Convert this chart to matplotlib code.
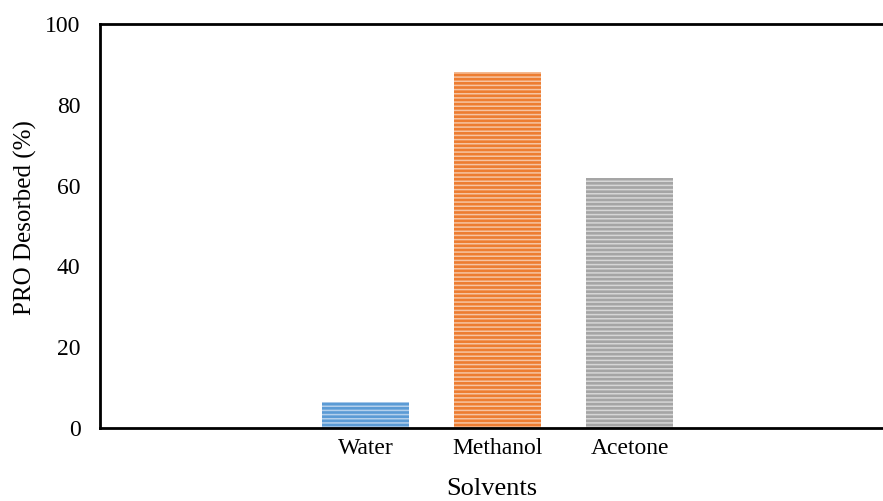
import matplotlib
matplotlib.use("Agg")
import matplotlib.pyplot as plt

plt.rcParams['font.family'] = ['Liberation Serif', 'DejaVu Serif']
plt.rcParams['hatch.linewidth'] = 1.1

solvents = ["Water", "Methanol", "Acetone"]
desorbed = [6.5, 88, 62]
colors = ["#5B9BD5", "#ED7D31", "#A5A5A5"]
stripe_colors = ["#B4D0EC", "#F6C4A2", "#D6D6D6"]

fig = plt.figure(figsize=(8.83, 5.01), dpi=100)
ax = fig.add_axes([0.1133, 0.1457, 0.8867, 0.8064])

x = range(len(solvents))
for xi, val, fc, hc in zip(x, desorbed, colors, stripe_colors):
    ax.bar(xi, val, width=0.66, color=fc, edgecolor=hc, hatch='----', linewidth=0)

ax.set_xlim(-2.015, 3.92)
ax.set_ylim(0, 100)
ax.set_yticks([0, 20, 40, 60, 80, 100])
ax.set_xticks(list(x))
ax.set_xticklabels(solvents)
ax.tick_params(axis='both', length=0, labelsize=17)
ax.tick_params(axis='y', pad=14)
ax.tick_params(axis='x', pad=7)

for side in ['left', 'bottom', 'top']:
    ax.spines[side].set_linewidth(2)
    ax.spines[side].set_color('black')
ax.spines['right'].set_visible(False)

ax.set_ylabel("PRO Desorbed (%)", fontsize=18)
ax.yaxis.set_label_coords(-0.080, 0.52)
ax.set_xlabel("Solvents", fontsize=19, labelpad=14)

fig.savefig("out.png", dpi=100)
